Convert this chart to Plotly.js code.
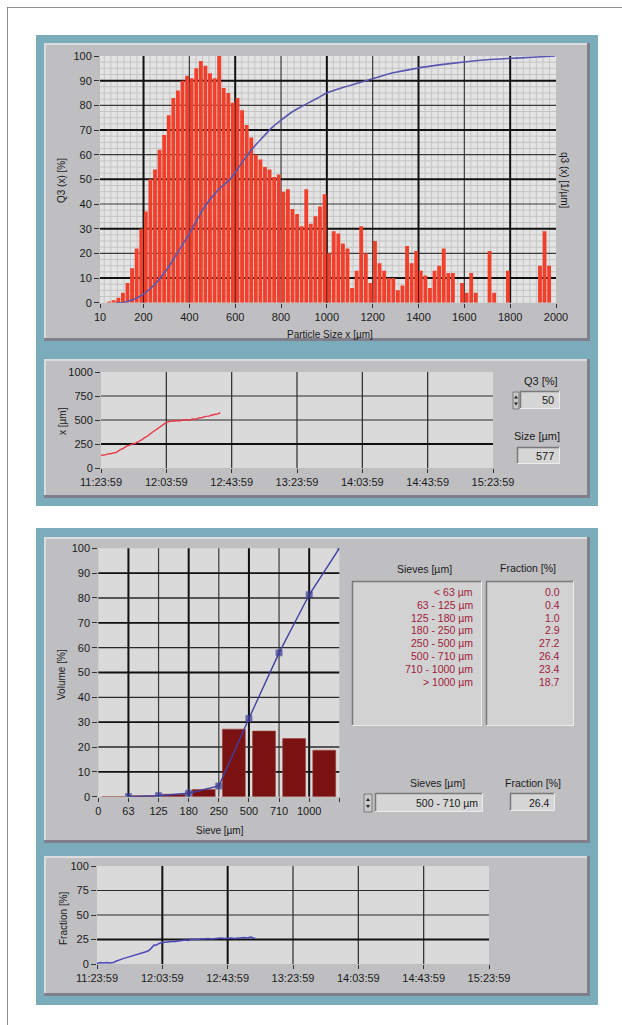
<!DOCTYPE html>
<html><head><meta charset="utf-8">
<script src="https://cdn.plot.ly/plotly-3.0.1.min.js"></script>
<style>html,body{margin:0;padding:0;background:#fff;}#chart{width:622px;height:1025px;}</style>
</head><body><div id="chart"></div>
<script>
// ---------------- data ----------------
const binStart = 40, binWidth = 20;
const q3density = [0.5,1,2,4,8,14,22,30,37,50,54,62,68,76,83,86,90,92,91,95,98,96,93,91,100,87,85,81,83,78,72,67,60,58,55,54,51,52,45,46,38,36,31,46,32,35,39,44,20,29,28,24,22,6,13,31,20,8,25,16,13,10,10,5,7,23,16,21,13,11,6,13,15,22,12,12,0,8,4,12,4,0,0,21,4,0,0,13,0,0,0,0,0,0,15,29,15,0,0];
const q3CumX = [80,110,130,160,200,250,290,320,360,400,430,460,500,540,577,620,650,690,720,760,800,840,880,930,960,1000,1080,1170,1280,1390,1500,1610,1700,1790,1900,1996];
const q3CumY = [0,0,0.5,1.5,3.5,7.5,12,16,22,28,33,38,43,47,50,55.5,59.5,64,67,71,74,76.8,79,81.5,83,85,87.5,90,93,95,96.5,97.7,98.5,99,99.5,100];
const histTickVals = [10,200,400,600,800,1000,1200,1400,1600,1800,2000];

const timeTickMinutes = [0,40,80,120,160,200,240];
const timeTickLabels = ["11:23:59","12:03:59","12:43:59","13:23:59","14:03:59","14:43:59","15:23:59"];
const x50Minutes = [0,1,2,3,4,5,6,7,8,9,10,11,12,13,14,15,16,17,18,19,20,21,22,23,24,25,26,27,28,29,30,31,32,33,34,35,36,37,38,39,40,41,42,43,44,45,46,47,48,49,50,52,54,56,58,60,62,64,66,68,70,71,72,73];
const x50Values = [128,136,134,142,146,150,149,156,160,158,172,178,194,198,214,220,230,234,244,246,256,255,268,272,288,292,308,316,332,338,354,366,382,392,410,418,434,440,456,462,474,480,486,484,492,488,496,490,494,500,497,503,498,511,508,522,526,538,540,552,554,562,566,577];
const fracMinutes = [0,2,4,6,8,10,12,14,16,18,20,22,24,26,28,30,32,33,34,35,36,38,40,42,44,46,48,50,52,54,56,58,60,62,64,66,68,70,72,74,76,78,80,82,84,86,88,90,92,94,95,96,97];
const fracValues = [0.5,1.5,1,1.5,1,1.5,3,4.5,5.5,6.5,7.5,8.5,9,10.5,11.5,12.5,14,15.5,17.5,19.5,19,21,22,22.5,22.5,23,23,23.5,24,24.5,24,25.5,25,25.5,25.5,25.5,26,25.5,26,26,26.5,26,26.5,26.5,26,26.5,26.5,27,26.5,27.5,27,26.2,26.4];

const sieveTickLabels = ["0","63","125","180","250","500","710","1000",""];
const sieveClasses = ["< 63 µm","63 - 125 µm","125 - 180 µm","180 - 250 µm","250 - 500 µm","500 - 710 µm","710 - 1000 µm","> 1000 µm"];
const sieveFractions = [0.0,0.4,1.0,2.9,27.2,26.4,23.4,18.7];
const q3Setting = "50", x50Readout = "577";
const selectedClass = "500 - 710 µm", selectedFraction = "26.4";

// ---------------- helpers ----------------
const W = 622, H = 1025;
const FONT = "'Liberation Sans Narrow', 'Liberation Sans', Arial, sans-serif";
const fx = v => v / W, fy = v => 1 - v / H;
const shapes = [], annotations = [];
function rect(x0, y0, x1, y1, fill, lineColor, lw) {
  shapes.push({type:'rect', xref:'paper', yref:'paper', layer:'below',
    x0:fx(x0), x1:fx(x1), y0:fy(y1), y1:fy(y0), fillcolor:fill,
    line:{width: lw || 0, color: lineColor || fill}});
}
function seg(x0, y0, x1, y1, color, w) {
  shapes.push({type:'line', xref:'paper', yref:'paper', layer:'below',
    x0:fx(x0), x1:fx(x1), y0:fy(y0), y1:fy(y1), line:{color:color, width:w}});
}
function panel(x0, y0, x1, y1) {
  rect(x0, y0, x1, y1, '#bfbfc2');
  seg(x0, y0 + 1, x1, y0 + 1, '#dcdcdf', 2);
  seg(x0 + 1, y0, x0 + 1, y1, '#dcdcdf', 2);
  seg(x0, y1 - 1.5, x1, y1 - 1.5, '#80808c', 3);
  seg(x1 - 1.5, y0, x1 - 1.5, y1, '#80808c', 3);
}
function sunken(x0, y0, x1, y1, fill) {
  rect(x0, y0, x1, y1, fill);
  seg(x0, y0 + 0.5, x1, y0 + 0.5, '#7a7a7a', 1.5);
  seg(x0 + 0.5, y0, x0 + 0.5, y1, '#7a7a7a', 1.5);
  seg(x0, y1 - 0.5, x1, y1 - 0.5, '#ececec', 1);
  seg(x1 - 0.5, y0, x1 - 0.5, y1, '#ececec', 1);
}
function spinner(x0, y0, x1, y1) {
  rect(x0, y0, x1, y1, '#c8c8c8', '#6a6a6a', 0.8);
  const xm = (x0 + x1) / 2, ym = (y0 + y1) / 2;
  shapes.push({type:'path', xref:'paper', yref:'paper', layer:'below', fillcolor:'#222', line:{width:0},
    path:`M${fx(xm-2)},${fy(ym-2)} L${fx(xm+2)},${fy(ym-2)} L${fx(xm)},${fy(ym-5)} Z`});
  shapes.push({type:'path', xref:'paper', yref:'paper', layer:'below', fillcolor:'#222', line:{width:0},
    path:`M${fx(xm-2)},${fy(ym+2)} L${fx(xm+2)},${fy(ym+2)} L${fx(xm)},${fy(ym+5)} Z`});
}
function txt(x, y, text, o) {
  o = o || {};
  annotations.push({xref:'paper', yref:'paper', x:fx(x), y:fy(y), text:text, showarrow:false,
    xanchor:o.xa || 'center', yanchor:'middle', textangle:o.angle || 0,
    font:{family:FONT, size:o.size || 11, color:o.color || '#1a1a1a'}});
}
function vgrid(xr, yr, vals, color, w) {
  vals.forEach(v => shapes.push({type:'line', xref:xr, yref:yr + ' domain', layer:'below',
    x0:v, x1:v, y0:0, y1:1, line:{color:color, width:w}}));
}
function hgrid(xr, yr, vals, color, w) {
  vals.forEach(v => shapes.push({type:'line', xref:xr + ' domain', yref:yr, layer:'below',
    x0:0, x1:1, y0:v, y1:v, line:{color:color, width:w}}));
}

// ---------------- frames & panels ----------------
rect(7, 7, 622, 7.8, '#6e6e6e');
rect(7, 7, 7.8, 1025, '#6e6e6e');
rect(36, 35, 598, 506, '#7aacbc');
rect(36, 528, 598, 1005, '#7aacbc');
panel(44, 43, 590, 341);
panel(44, 359, 590, 498);
panel(44, 537, 590, 843);
panel(44, 856, 590, 996);

const HIST = [100, 56, 556, 302.7], T1 = [101, 372, 493, 468], SV = [98.3, 548.3, 339.3, 796.7], T2 = [97, 866, 489, 964];
rect(HIST[0], HIST[1], HIST[2], HIST[3], '#e4e4e4');
rect(T1[0], T1[1], T1[2], T1[3], '#dadada');
rect(SV[0], SV[1], SV[2], SV[3], '#dadada');
rect(T2[0], T2[1], T2[2], T2[3], '#dadada');

// ---------------- grids ----------------
const minorX = [], minorY = [];
for (let v = 200 - 200 / 7 * 6; v < 2000; v += 200 / 7) { if (v > 10 && Math.abs(v / 200 - Math.round(v / 200)) > 0.01) minorX.push(v); }
for (let v = 2.5; v < 100; v += 2.5) { if (v % 10 !== 0) minorY.push(v); }
vgrid('x', 'y', minorX, '#c4c4c4', 1);
hgrid('x', 'y', minorY, '#c4c4c4', 1);
vgrid('x', 'y', [400,800,1200,1600], '#3a3a3a', 1.2);
hgrid('x', 'y', [20,40,60,80], '#3a3a3a', 1.2);
vgrid('x', 'y', [200,600,1000,1400,1800], '#111', 2);
hgrid('x', 'y', [10,30,50,70,90], '#111', 2);

vgrid('x2', 'y2', [40,80,120,160,200], '#2a2a2a', 1.2);
hgrid('x2', 'y2', [500,750], '#2a2a2a', 1.2);
hgrid('x2', 'y2', [250], '#111', 2);

vgrid('x3', 'y3', [2,4,6], '#3a3a3a', 1.2);
vgrid('x3', 'y3', [1,3,5,7], '#111', 2);
hgrid('x3', 'y3', [20,40,60,80], '#2a2a2a', 1.3);
hgrid('x3', 'y3', [10,30,50,70,90], '#111', 1.8);

vgrid('x4', 'y4', [120,160,200], '#2a2a2a', 1.2);
vgrid('x4', 'y4', [40,80], '#111', 2);
hgrid('x4', 'y4', [50,75], '#2a2a2a', 1.2);
hgrid('x4', 'y4', [25], '#111', 2);

// ---------------- controls & labels ----------------
txt(541, 381, 'Q3 [%]');
spinner(513, 392, 519, 409);
sunken(520, 391, 560, 409, '#d6d6d6');
txt(556, 400, q3Setting, {xa:'right'});
txt(537, 436, 'Size [µm]');
sunken(517, 447, 560, 464, '#d6d6d6');
txt(556, 456, x50Readout, {xa:'right'});

txt(425, 569, 'Sieves [µm]', {size:10.5});
txt(528, 568, 'Fraction [%]', {size:10.5});
sunken(352, 581, 482, 726, '#d2d2d2');
sunken(486, 581, 574, 726, '#d2d2d2');
sieveClasses.forEach((c, i) => {
  txt(475, 592 + i * 12.8, c, {xa:'right', color:'#a0203a', size:10.5});
  txt(562, 592 + i * 12.8, sieveFractions[i].toFixed(1), {xa:'right', color:'#a0203a', size:10.5});
});
txt(437, 783, 'Sieves [µm]', {size:10.5});
txt(533, 783, 'Fraction [%]', {size:10.5});
spinner(364, 794, 372, 812);
sunken(375, 793, 483, 812, '#d6d6d6');
txt(480, 802.5, selectedClass, {xa:'right', size:10.5});
sunken(510, 793, 555, 811, '#d6d6d6');
txt(552, 802.5, selectedFraction, {xa:'right', size:10.5});

txt(62, 181, 'Q3 (x) [%]', {angle:-90, size:10});
txt(564, 180, 'q3 (x) [1/µm]', {angle:90, size:10});
txt(330, 334, 'Particle Size x [µm]', {size:10});
txt(63, 421, 'x [µm]', {angle:-90, size:10});
txt(61, 675, 'Volume [%]', {angle:-90, size:10});
txt(220, 830, 'Sieve [µm]', {size:10});
txt(63, 918, 'Fraction [%]', {angle:-90, size:10});

// ---------------- traces ----------------
const binCenters = q3density.map((_, i) => binStart + binWidth / 2 + i * binWidth);
const sievePos = sieveFractions.map((_, i) => i + 0.5);
const cumPos = sieveFractions.map((_, i) => i + 1);
const cumPass = []; let run = 0;
sieveFractions.forEach(f => { run += f; cumPass.push(Math.round(run * 10) / 10); });

const traces = [
  {type:'bar', x:binCenters, y:q3density, width:binWidth * 0.84, xaxis:'x', yaxis:'y',
   marker:{color:'#f0402c', line:{width:0}}, hoverinfo:'skip'},
  {type:'scatter', mode:'lines', x:q3CumX, y:q3CumY, xaxis:'x', yaxis:'y', line:{color:'#5858b0', width:1.6, shape:'spline', smoothing:0.6}, hoverinfo:'skip'},
  {type:'scatter', mode:'lines', x:x50Minutes, y:x50Values, xaxis:'x2', yaxis:'y2',
   line:{color:'#e83848', width:1.4}, hoverinfo:'skip'},
  {type:'bar', x:sievePos, y:sieveFractions, width:0.76, xaxis:'x3', yaxis:'y3',
   marker:{color:'#7a1212', line:{width:0.6, color:'#a04040'}}, hoverinfo:'skip'},
  {type:'scatter', mode:'lines+markers', x:cumPos, y:cumPass, xaxis:'x3', yaxis:'y3',
   line:{color:'#4040a0', width:1.4},
   marker:{symbol:'square', size:cumPos.map((_, i) => i === cumPos.length - 1 ? 3 : 6), color:'#36368a'},
   hoverinfo:'skip'},
  {type:'scatter', mode:'lines', x:fracMinutes, y:fracValues, xaxis:'x4', yaxis:'y4',
   line:{color:'#4a4ab8', width:1.5}, hoverinfo:'skip'}
];

const tickFont = {family:FONT, size:11, color:'#1a1a1a'};
function xax(dom, range, vals, text) {
  return {domain:[fx(dom[0]), fx(dom[2])], range:range, tickmode:'array', tickvals:vals, ticktext:text,
    ticks:'outside', ticklen:4, tickcolor:'#333', showgrid:false, zeroline:false, showline:false,
    automargin:false, fixedrange:true, tickfont:tickFont};
}
function yax(dom, range, vals) {
  return {domain:[fy(dom[3]), fy(dom[1])], range:range, tickmode:'array', tickvals:vals,
    ticks:'outside', ticklen:5, tickcolor:'#333', showgrid:false, zeroline:false, showline:false,
    automargin:false, fixedrange:true, tickfont:tickFont};
}
const yTen = [0,10,20,30,40,50,60,70,80,90,100];
const layout = {
  width:W, height:H, margin:{l:0, r:0, t:0, b:0}, autosize:false,
  paper_bgcolor:'#ffffff', plot_bgcolor:'rgba(0,0,0,0)', showlegend:false, barmode:'overlay',
  xaxis: Object.assign(xax(HIST, [10, 2000], histTickVals, histTickVals.map(String)), {anchor:'y'}),
  yaxis: Object.assign(yax(HIST, [0, 100], yTen), {anchor:'x'}),
  xaxis2: Object.assign(xax(T1, [0, 240], timeTickMinutes, timeTickLabels), {anchor:'y2'}),
  yaxis2: Object.assign(yax(T1, [0, 1000], [0,250,500,750,1000]), {anchor:'x2'}),
  xaxis3: Object.assign(xax(SV, [0, 8], [0,1,2,3,4,5,6,7,8], sieveTickLabels), {anchor:'y3'}),
  yaxis3: Object.assign(yax(SV, [0, 100], yTen), {anchor:'x3'}),
  xaxis4: Object.assign(xax(T2, [0, 240], timeTickMinutes, timeTickLabels), {anchor:'y4'}),
  yaxis4: Object.assign(yax(T2, [0, 100], [0,25,50,75,100]), {anchor:'x4'}),
  shapes:shapes, annotations:annotations
};
Plotly.newPlot('chart', traces, layout, {staticPlot:true, displayModeBar:false});
</script></body></html>
